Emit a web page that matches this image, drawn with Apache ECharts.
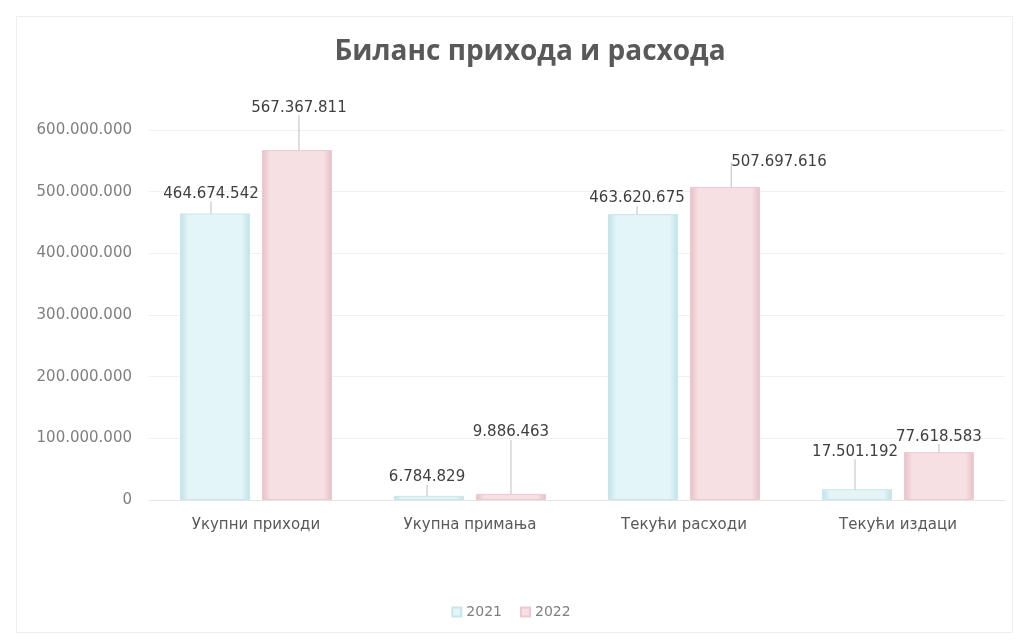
<!DOCTYPE html>
<html>
<head>
<meta charset="utf-8">
<script src="https://cdn.jsdelivr.net/npm/echarts@6/dist/echarts.min.js"></script>
<style>
html,body{margin:0;padding:0;background:#fff;}
#main{width:1022px;height:642px;}
</style>
</head>
<body>
<div id="main"></div>
<script>
const title = 'Биланс прихода и расхода';
const categories = ['Укупни приходи', 'Укупна примања', 'Текући расходи', 'Текући издаци'];
const seriesNames = ['2021', '2022'];
const values2021 = [464674542, 6784829, 463620675, 17501192];
const values2022 = [567367811, 9886463, 507697616, 77618583];
const yTicks = [0, 100000000, 200000000, 300000000, 400000000, 500000000, 600000000];

function fmt(v) {
  return String(Math.round(v)).replace(/\B(?=(\d{3})+(?!\d))/g, '.');
}

const chart = echarts.init(document.getElementById('main'));
const smallFont = 'DejaVu Sans';

// label nudges (dx, dy) per series / category
const nudges = [
  [[-4, -7], [-2, -6], [-6, -3], [-2, -25]],
  [[2, -30], [0, -49], [54, -12], [0, -3]]
];

function barStyle(fillMid, fillEdge, border) {
  return {
    color: {
      type: 'linear', x: 0, y: 0, x2: 1, y2: 0,
      colorStops: [
        {offset: 0, color: fillEdge},
        {offset: 0.12, color: fillMid},
        {offset: 0.88, color: fillMid},
        {offset: 1, color: fillEdge}
      ]
    },
    borderColor: border,
    borderWidth: 1
  };
}

function makeSeries(idx, data, style) {
  return {
    name: seriesNames[idx],
    type: 'bar',
    data: data,
    barGap: '17%',
    barCategoryGap: '29%',
    itemStyle: style,
    label: {
      show: true,
      position: 'top',
      distance: 5,
      formatter: p => fmt(p.value),
      color: '#404040',
      fontSize: 15,
      fontFamily: smallFont
    },
    labelLine: {
      show: true,
      lineStyle: {color: '#bfbfbf', width: 1}
    },
    labelLayout: function (params) {
      const n = nudges[idx][params.dataIndex];
      return {dx: n[0], dy: n[1]};
    }
  };
}

const option = {
  backgroundColor: '#ffffff',
  animation: false,
  title: {
    text: title,
    left: 525,
    textAlign: 'center',
    top: 33,
    textStyle: {
      color: '#595959',
      fontSize: 28,
      fontWeight: 'bold',
      fontFamily: 'Open Sans'
    }
  },
  legend: {
    data: seriesNames,
    bottom: 18,
    left: 'center',
    itemWidth: 9,
    itemHeight: 9,
    itemGap: 18,
    icon: 'rect',
    textStyle: {color: '#7f7f7f', fontSize: 14, fontFamily: smallFont}
  },
  grid: {
    left: 149,
    right: 17,
    top: 130,
    bottom: 142,
    containLabel: false
  },
  xAxis: {
    type: 'category',
    data: categories,
    axisLine: {show: true, lineStyle: {color: '#e6e6e6'}},
    axisTick: {show: false},
    axisLabel: {
      color: '#595959',
      fontSize: 15,
      margin: 18,
      fontFamily: smallFont
    }
  },
  yAxis: {
    type: 'value',
    min: yTicks[0],
    max: yTicks[yTicks.length - 1],
    interval: yTicks[1] - yTicks[0],
    axisLine: {show: false},
    axisTick: {show: false},
    splitLine: {lineStyle: {color: '#f0f0f0'}},
    axisLabel: {
      formatter: v => fmt(v),
      color: '#7f7f7f',
      fontSize: 15,
      margin: 17,
      fontFamily: smallFont
    }
  },
  series: [
    makeSeries(0, values2021, barStyle('#e4f5f7', '#bfe2e8', '#c9e6eb')),
    makeSeries(1, values2022, barStyle('#f7e0e4', '#e6bec6', '#ebc9cf'))
  ],
  graphic: [{
    type: 'rect',
    left: 14, top: 14,
    shape: {width: 996, height: 616},
    style: {fill: 'none', stroke: '#eeeeee', lineWidth: 1},
    silent: true
  }]
};

chart.setOption(option);
</script>
</body>
</html>
